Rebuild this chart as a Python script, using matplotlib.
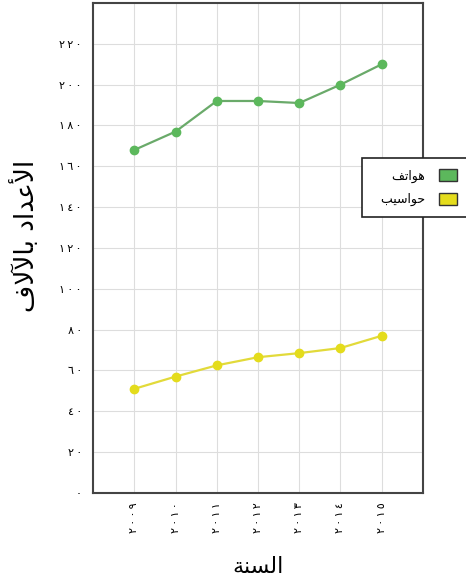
import matplotlib
matplotlib.use("Agg")
import matplotlib.pyplot as plt
from matplotlib.patches import Patch

# data
years = [2009, 2010, 2011, 2012, 2013, 2014, 2015]
phones = [168, 177, 192, 192, 191, 200, 210]
computers = [51, 57, 62.5, 66.5, 68.5, 71, 77]
y_ticks = [0, 20, 40, 60, 80, 100, 120, 140, 160, 180, 200, 220]

# arabic shaping (matplotlib draws glyphs one by one, so join them by hand)
FORMS = {  # isolated, final, initial, medial
    'ا': ('\uFE8D', '\uFE8E', None, None),
    'أ': ('\uFE83', '\uFE84', None, None),
    'آ': ('\uFE81', '\uFE82', None, None),
    'د': ('\uFEA9', '\uFEAA', None, None),
    'و': ('\uFEED', '\uFEEE', None, None),
    'ة': ('\uFE93', '\uFE94', None, None),
    'ل': ('\uFEDD', '\uFEDE', '\uFEDF', '\uFEE0'),
    'ع': ('\uFEC9', '\uFECA', '\uFECB', '\uFECC'),
    'ب': ('\uFE8F', '\uFE90', '\uFE91', '\uFE92'),
    'ف': ('\uFED1', '\uFED2', '\uFED3', '\uFED4'),
    'س': ('\uFEB1', '\uFEB2', '\uFEB3', '\uFEB4'),
    'ن': ('\uFEE5', '\uFEE6', '\uFEE7', '\uFEE8'),
    'ه': ('\uFEE9', '\uFEEA', '\uFEEB', '\uFEEC'),
    'ت': ('\uFE95', '\uFE96', '\uFE97', '\uFE98'),
    'ح': ('\uFEA1', '\uFEA2', '\uFEA3', '\uFEA4'),
    'ي': ('\uFEF1', '\uFEF2', '\uFEF3', '\uFEF4'),
}
LAM_ALEF = {'ا': ('\uFEFB', '\uFEFC'), 'أ': ('\uFEF7', '\uFEF8'), 'آ': ('\uFEF5', '\uFEF6')}


def joins_next(c):
    return c in FORMS and FORMS[c][2] is not None


def shape(txt):
    out = []
    i = 0
    while i < len(txt):
        c = txt[i]
        prev = txt[i - 1] if i > 0 else ''
        linked = joins_next(prev)
        if c == 'ل' and i + 1 < len(txt) and txt[i + 1] in LAM_ALEF:
            out.append(LAM_ALEF[txt[i + 1]][1 if linked else 0])
            i += 2
            continue
        if c not in FORMS:
            out.append(c)
            i += 1
            continue
        nxt = txt[i + 1] if i + 1 < len(txt) else ''
        to_next = joins_next(c) and nxt in FORMS
        iso, fin, ini, med = FORMS[c]
        if linked and to_next:
            out.append(med)
        elif linked:
            out.append(fin)
        elif to_next:
            out.append(ini)
        else:
            out.append(iso)
        i += 1
    return ''.join(reversed(out))


def indic(n):
    # arabic-indic digits, spread out a bit like the original
    s = str(n).translate(str.maketrans('0123456789', '٠١٢٣٤٥٦٧٨٩'))
    return '\u2009'.join(s)


plt.rcParams['font.family'] = ['DejaVu Sans']

fig = plt.figure(figsize=(4.66, 5.85), dpi=100)
ax = fig.add_axes([0.1996, 0.1573, 0.7081, 0.8376])

ax.plot(years, phones, color='#6aaa6a', linewidth=1.6, marker='o', markersize=6,
        markerfacecolor='#5cb85c', markeredgecolor='#5cb85c')
ax.plot(years, computers, color='#e2da3a', linewidth=1.6, marker='o', markersize=6,
        markerfacecolor='#e4dc1c', markeredgecolor='#e4dc1c')

ax.set_xlim(2008, 2016)
ax.set_ylim(0, 240)
ax.set_xticks(years)
ax.set_xticklabels([indic(y) for y in years], rotation=90, fontsize=8)
ax.set_yticks(y_ticks)
ax.set_yticklabels([indic(v) for v in y_ticks], fontsize=8)
ax.tick_params(length=0, pad=8)
ax.tick_params(axis='x', pad=7)
ax.grid(True, color='#dddddd', linewidth=0.8)
for s in ax.spines.values():
    s.set_color('#444444')
    s.set_linewidth(1.5)

ax.set_xlabel(shape('السنة'), fontsize=16, labelpad=17)
ax.set_ylabel(shape('الأعداد بالآلاف'), fontsize=19)
ax.yaxis.set_label_coords(-0.16, 0.5245)

handles = [Patch(facecolor='#5cb85c', edgecolor='#333333', label='  ' + shape('هواتف')),
           Patch(facecolor='#e4dc1c', edgecolor='#333333', label='  ' + shape('حواسيب'))]
leg = fig.legend(handles=handles, loc='upper left', bbox_to_anchor=(362 / 466, 1 - 158 / 585),
                 markerfirst=False, fontsize=9, fancybox=False, framealpha=1,
                 handlelength=1.4, handleheight=1.1, handletextpad=1.1,
                 borderpad=0.9, labelspacing=0.8, borderaxespad=0)
leg.get_frame().set_edgecolor('#222222')
leg.get_frame().set_linewidth(1.2)

fig.savefig('out.png', dpi=100)
